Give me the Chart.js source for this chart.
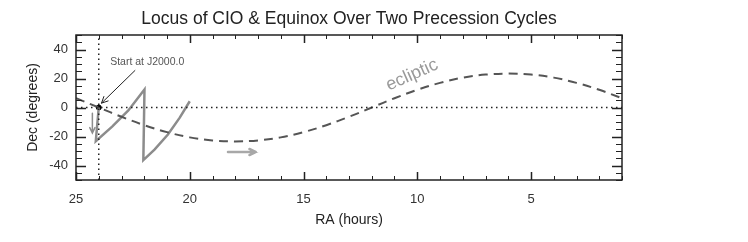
<!DOCTYPE html>
<html>
<head>
<meta charset="utf-8">
<script src="https://cdn.jsdelivr.net/npm/chart.js@4/dist/chart.umd.min.js"></script>
<style>html,body{margin:0;padding:0;background:#fff}</style>
</head>
<body>
<canvas id="myChart" width="748" height="242"></canvas>
<script>
// Ecliptic (dashed)
const eclipticRA  = [25, 24, 23, 22, 21, 20, 19, 18, 17, 16, 15, 14, 13, 12, 11, 10, 9, 8, 7, 6, 5, 4, 3, 2, 1];
const eclipticDec = [6.4, 0, -6.4, -12.2, -17.0, -20.6, -22.7, -23.4, -22.7, -20.6, -17.0, -12.2, -6.4, 0, 6.4, 12.2, 17.0, 20.6, 22.7, 23.4, 22.7, 20.6, 17.0, 12.2, 6.4];

// Locus of the CIO (grey solid line)
const cioRA  = [24.0, 24.13, 23.4, 22.7, 21.99, 22.04, 21.55, 20.96, 20.44, 20.0];
const cioDec = [0, -23.2, -13, -2, 12.4, -36.3, -29, -18.6, -7, 4.3];

// Start point (J2000.0)
const startRA = [24.0];
const startDec = [0];

// Reference lines
const equatorRA = [25, 1];
const equatorDec = [0, 0];
const j2000RA = [24, 24];
const j2000Dec = [-50, 50];

// Axis ticks
const xTickLabels = [25, 20, 15, 10, 5];
const yTickLabels = [-40, -20, 0, 20, 40];

// Annotations (in data coordinates)
const startText = { text: 'Start at J2000.0', ra: 23.5, dec: 31.4 };
const eclipticText = { text: 'ecliptic', ra: 10.23, dec: 22.4 };
const startArrow = { from: [22.41, 25.5], to: [23.88, 3.0] };
const downArrow = { from: [24.28, -4], to: [24.28, -17.6] };
const rightArrow = { from: [18.32, -30.7], to: [17.1, -30.7] };

const FONT = '"Liberation Sans", Arial, Helvetica, sans-serif';

function pts(xs, ys) {
    return xs.map((v, i) => ({ x: v, y: ys[i] }));
}

function arrow(ctx, x1, y1, x2, y2, color, width, head) {
    const ang = Math.atan2(y2 - y1, x2 - x1);
    ctx.strokeStyle = color;
    ctx.lineWidth = width;
    ctx.lineCap = 'round';
    ctx.beginPath();
    ctx.moveTo(x1, y1);
    ctx.lineTo(x2, y2);
    ctx.moveTo(x2 - head * Math.cos(ang - 0.45), y2 - head * Math.sin(ang - 0.45));
    ctx.lineTo(x2, y2);
    ctx.lineTo(x2 - head * Math.cos(ang + 0.45), y2 - head * Math.sin(ang + 0.45));
    ctx.stroke();
}

// Frame, inward ticks, arrows and labels
const framePlugin = {
    id: 'frame',
    afterDatasetsDraw(chart) {
        const { ctx, chartArea: a, scales: { x, y } } = chart;
        ctx.save();
        ctx.strokeStyle = '#222';
        for (let v = 1; v <= 25; v++) {
            const px = Math.round(x.getPixelForValue(v)) + 0.5;
            const major = v % 5 === 0;
            const len = major ? 8 : 4;
            ctx.lineWidth = major ? 1.5 : 1;
            ctx.beginPath();
            ctx.moveTo(px, a.bottom); ctx.lineTo(px, a.bottom - len);
            ctx.moveTo(px, a.top); ctx.lineTo(px, a.top + len);
            ctx.stroke();
        }
        for (let v = -50; v <= 50; v += 5) {
            const py = Math.round(y.getPixelForValue(v)) + 0.5;
            const major = v % 20 === 0;
            const len = major ? 10 : 6;
            ctx.lineWidth = major ? 1.5 : 1;
            ctx.beginPath();
            ctx.moveTo(a.left, py); ctx.lineTo(a.left + len, py);
            ctx.moveTo(a.right, py); ctx.lineTo(a.right - len, py);
            ctx.stroke();
        }
        ctx.lineWidth = 1.5;
        ctx.strokeRect(a.left, a.top, a.right - a.left, a.bottom - a.top);

        // arrows
        const P = p => [x.getPixelForValue(p[0]), y.getPixelForValue(p[1])];
        let f = P(startArrow.from), t = P(startArrow.to);
        arrow(ctx, f[0], f[1], t[0], t[1], '#222', 1, 7);
        f = P(downArrow.from); t = P(downArrow.to);
        arrow(ctx, f[0], f[1], t[0], t[1], '#8c8c8c', 1.5, 6);
        f = P(rightArrow.from); t = P(rightArrow.to);
        arrow(ctx, f[0], f[1], t[0], t[1], '#a8a8a8', 2.5, 7);

        // text labels
        ctx.fillStyle = '#555';
        ctx.font = '10.5px ' + FONT;
        ctx.textAlign = 'left';
        ctx.textBaseline = 'middle';
        ctx.fillText(startText.text, x.getPixelForValue(startText.ra), y.getPixelForValue(startText.dec));

        ctx.save();
        ctx.translate(x.getPixelForValue(eclipticText.ra), y.getPixelForValue(eclipticText.dec));
        ctx.rotate(-24 * Math.PI / 180);
        ctx.fillStyle = '#999';
        ctx.font = '18px ' + FONT;
        ctx.textAlign = 'center';
        ctx.fillText(eclipticText.text, 0, 0);
        ctx.restore();
        ctx.restore();
    }
};

let ctx = document.getElementById('myChart').getContext('2d');
let chart = new Chart(ctx, {
    type: 'line',
    data: {
        datasets: [
            {
                label: 'equator',
                data: pts(equatorRA, equatorDec),
                borderColor: '#222', borderWidth: 1.5, borderDash: [1.5, 3.5],
                pointRadius: 0
            },
            {
                label: 'J2000',
                data: pts(j2000RA, j2000Dec),
                borderColor: '#222', borderWidth: 1.5, borderDash: [1.5, 3.5],
                pointRadius: 0
            },
            {
                label: 'ecliptic',
                data: pts(eclipticRA, eclipticDec),
                borderColor: '#555', borderWidth: 2, borderDash: [9, 6],
                pointRadius: 0, tension: 0.35
            },
            {
                label: 'CIO',
                data: pts(cioRA, cioDec),
                borderColor: '#8c8c8c', borderWidth: 2.5,
                pointRadius: 0, tension: 0
            },
            {
                label: 'start',
                data: pts(startRA, startDec),
                showLine: false,
                pointRadius: 2.5, pointBackgroundColor: '#000', pointBorderColor: '#000'
            }
        ]
    },
    options: {
        responsive: false,
        animation: false,
        devicePixelRatio: 1,
        layout: { padding: { left: 0, right: 126, top: 0, bottom: 0 } },
        plugins: {
            legend: { display: false },
            tooltip: { enabled: false },
            title: {
                display: true,
                text: 'Locus of CIO & Equinox Over Two Precession Cycles',
                fullSize: false,
                color: '#222',
                font: { family: FONT, size: 17.5, weight: 'normal' },
                padding: { top: 9, bottom: 5 }
            }
        },
        scales: {
            x: {
                type: 'linear', min: 1, max: 25, reverse: true,
                grid: { display: false, drawTicks: false },
                border: { display: false },
                afterFit: s => { s.height = 62; },
                afterBuildTicks: s => { s.ticks = xTickLabels.map(v => ({ value: v })); },
                ticks: { color: '#333', font: { family: FONT, size: 13 }, padding: 12, maxRotation: 0, autoSkip: false },
                title: { display: true, text: 'RA (hours)', color: '#222', font: { family: FONT, size: 14 }, padding: { top: 0, bottom: 13 } }
            },
            y: {
                min: -50, max: 50,
                grid: { display: false, drawTicks: false },
                border: { display: false },
                afterFit: s => { s.width = 76; },
                afterBuildTicks: s => { s.ticks = yTickLabels.map(v => ({ value: v })); },
                ticks: { color: '#333', font: { family: FONT, size: 13 }, padding: 8, autoSkip: false },
                title: { display: true, text: 'Dec (degrees)', color: '#222', font: { family: FONT, size: 14 }, padding: { top: 25, bottom: 0 } }
            }
        }
    },
    plugins: [framePlugin]
});
</script>
</body>
</html>
